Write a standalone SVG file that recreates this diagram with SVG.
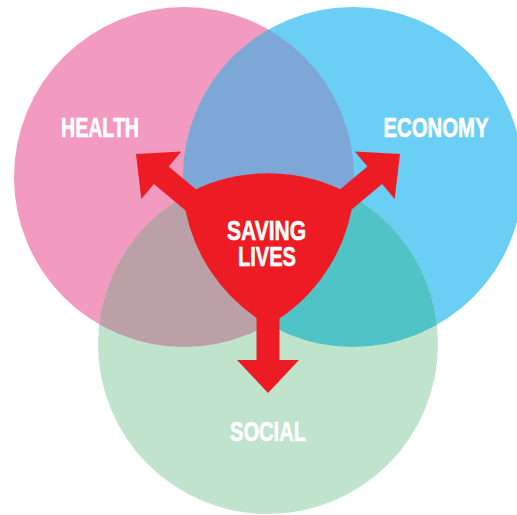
<svg xmlns="http://www.w3.org/2000/svg" width="517" height="515" viewBox="0 0 517 515">
  <style>
    .label { font-family: "Liberation Sans", Arial, sans-serif; font-weight: 700; font-size: 28px; fill: #ffffff; stroke: #ffffff; stroke-width: 0.6; text-anchor: middle; }
    .arrow { fill: #ED1C24; }
  </style>
  <defs>
    <clipPath id="clip-health"><circle cx="184" cy="177" r="170"/></clipPath>
    <clipPath id="clip-economy"><circle cx="353" cy="177" r="170"/></clipPath>
    <!-- arrow pointing down, tip at origin -->
    <path id="arrow-short" d="M0,0 L-31,-33 L-11.5,-33 L-11.5,-95 L11.5,-95 L11.5,-33 L31,-33 Z"/>
    <path id="arrow-long" d="M0,0 L-31,-33 L-11.5,-33 L-11.5,-100 L11.5,-100 L11.5,-33 L31,-33 Z"/>
  </defs>

  <g id="health">
    <circle cx="184" cy="177" r="170" fill="#F29AC0"/>
    <text class="label" x="100" y="137" textLength="78" lengthAdjust="spacingAndGlyphs">HEALTH</text>
  </g>

  <g id="economy">
    <circle cx="353" cy="177" r="170" fill="#6BCEF4"/>
  </g>

  <g id="social">
    <circle cx="268" cy="344" r="170" fill="#C0E3CB"/>
  </g>

  <!-- pairwise overlaps of the three circles -->
  <g id="overlaps">
    <circle cx="353" cy="177" r="170" fill="#7DA7D6" clip-path="url(#clip-health)"/>
    <circle cx="268" cy="344" r="170" fill="#BCA0A7" clip-path="url(#clip-health)"/>
    <circle cx="268" cy="344" r="170" fill="#50C3C6" clip-path="url(#clip-economy)"/>
  </g>

  <g id="labels">
    <text class="label" x="436" y="137" textLength="105" lengthAdjust="spacingAndGlyphs">ECONOMY</text>
    <text class="label" x="268" y="441" textLength="76" lengthAdjust="spacingAndGlyphs">SOCIAL</text>
  </g>

  <g id="connectors">
    <use href="#arrow-short" class="arrow" transform="translate(268,393)"/>
    <use href="#arrow-long" class="arrow" transform="translate(136,154) rotate(130)"/>
    <use href="#arrow-long" class="arrow" transform="translate(400,154) rotate(-130)"/>
  </g>

  <!-- centre: the region shared by all three circles -->
  <g id="saving-lives">
    <path class="arrow" stroke="#ED1C24" stroke-width="1.5" stroke-linejoin="round"
          d="M184.1,196.2 A170,170 0 0 1 352.9,196.7 A170,170 0 0 1 268.5,324.5 A170,170 0 0 1 184.1,196.2 Z"/>
    <text class="label" x="266.5" y="240" textLength="79" lengthAdjust="spacingAndGlyphs">SAVING</text>
    <text class="label" x="267" y="266" textLength="58" lengthAdjust="spacingAndGlyphs">LIVES</text>
  </g>
</svg>
